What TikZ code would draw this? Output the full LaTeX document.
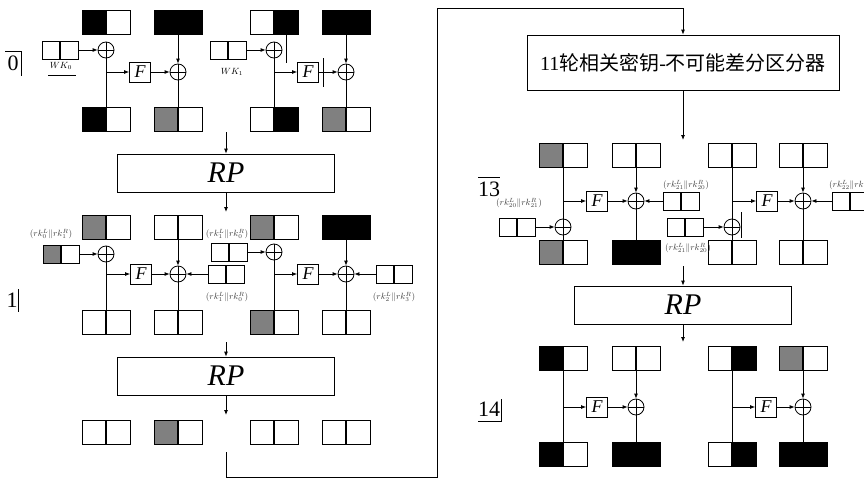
\documentclass[tikz,border=0pt]{standalone}
\usepackage{fontspec}
\setmainfont{Liberation Serif}
\newfontfamily\cjk{Noto Sans CJK SC}
\usetikzlibrary{arrows.meta}
\begin{document}
\begin{tikzpicture}[x=1pt,y=-1pt,line width=0.8pt,
 regbox/.style 2 args={draw, minimum width=48pt, minimum height=24pt, inner sep=0pt,
   path picture={\fill[#1] (path picture bounding box.south west) rectangle (path picture bounding box.north);
                 \fill[#2] (path picture bounding box.south) rectangle (path picture bounding box.north east);
                 \draw[line width=1.1pt] (path picture bounding box.south) -- (path picture bounding box.north);}},
 kbox/.style 2 args={regbox={#1}{#2}, minimum width=36pt, minimum height=18pt},
 fbx/.style={draw, minimum width=21pt, minimum height=20pt, inner sep=0pt, font=\fontsize{18}{18}\selectfont\itshape},
 xo/.style={circle, draw, minimum size=16pt, inner sep=0pt,
   path picture={\draw[line width=0.6pt] (path picture bounding box.north) -- (path picture bounding box.south)
                 (path picture bounding box.west) -- (path picture bounding box.east);}},
 rpbox/.style={draw, minimum width=217pt, minimum height=38pt, inner sep=0pt, font=\fontsize{30}{30}\selectfont\itshape},
 arr/.style={-{Latex[length=5pt,width=4pt]}},
 klab/.style={font=\fontsize{9}{9}\selectfont, text=black!75, inner sep=0pt},
 rlab/.style={font=\fontsize{22}{22}\selectfont, inner sep=0pt}
]
\useasboundingbox (0,0) rectangle (864,479);
\colorlet{gr}{black!50}

% ---------------- Round 0 ----------------
\node[regbox={black}{white}] (t0a) at (106,22) {};
\node[regbox={black}{black}] (t0b) at (178,22) {};
\node[regbox={white}{black}] (t0c) at (274,22) {};
\node[regbox={black}{black}] (t0d) at (346,22) {};
\node[kbox={white}{white}] (wk0) at (60,50) {};
\node[kbox={white}{white}] (wk1) at (228,50) {};
\node[xo] (x0a) at (106,50) {};
\node[xo] (x0b) at (274,50) {};
\node[fbx] (f0a) at (140,72) {F};
\node[fbx] (f0b) at (308,72) {F};
\node[xo] (x0c) at (178,72) {};
\node[xo] (x0d) at (346,72) {};
\node[regbox={black}{white}] (b0a) at (106,119) {};
\node[regbox={gr}{white}] (b0b) at (178,119) {};
\node[regbox={white}{black}] (b0c) at (274,119) {};
\node[regbox={gr}{white}] (b0d) at (346,119) {};
\coordinate (br0a) at (106,72);
\coordinate (br0b) at (274,72);
\node[font=\fontsize{9}{9}\selectfont, inner sep=0pt] (wl0) at (61,66) {$WK_0$};
\draw[line width=0.6pt] (48,75) -- (76,75);
\node[font=\fontsize{9}{9}\selectfont, inner sep=0pt] (wl1) at (232,72) {$WK_1$};
\node[rlab] (r0) at (13,63) {0};
\draw (5,51) -- (21,51) -- (21,76);

\draw[arr] (wk0) -- (x0a);
\draw (x0a) -- (b0a);
\draw[arr] (br0a) -- (f0a);
\draw[arr] (f0a) -- (x0c);
\draw[arr] (t0b) -- (x0c);
\draw (x0c) -- (b0b);
\draw[arr] (wk1) -- (x0b);
\draw (x0b) -- (b0c);
\draw[arr] (br0b) -- (f0b);
\draw[arr] (f0b) -- (x0d);
\draw[arr] (t0d) -- (x0d);
\draw (x0d) -- (b0d);
\draw (286,33) -- (286,63);
\draw (323,58) -- (323,87);

% ---------------- RP 1 ----------------
\node[rpbox] (rp1) at (226,173) {RP};
\coordinate (in1) at (226,132);
\coordinate (out1) at (226,212);
\draw[arr] (in1) -- (rp1);
\draw[arr] (rp1) -- (out1);

% ---------------- Round 1 ----------------
\node[regbox={gr}{white}] (t1a) at (106,227) {};
\node[regbox={white}{white}] (t1b) at (178,227) {};
\node[regbox={gr}{white}] (t1c) at (274,227) {};
\node[regbox={black}{black}] (t1d) at (346,227) {};
\node[kbox={gr}{white}] (k1a) at (61,254) {};
\node[xo] (x1a) at (106,254) {};
\node[kbox={white}{white}] (k1b) at (229,252) {};
\node[xo] (x1b) at (274,252) {};
\node[fbx] (f1a) at (141,274) {F};
\node[xo] (x1c) at (178,274) {};
\node[kbox={white}{white}] (k1c) at (226,274) {};
\node[fbx] (f1b) at (308,274) {F};
\node[xo] (x1d) at (346,274) {};
\node[kbox={white}{white}] (k1d) at (394,274) {};
\node[regbox={white}{white}] (b1a) at (106,322) {};
\node[regbox={white}{white}] (b1b) at (178,322) {};
\node[regbox={gr}{white}] (b1c) at (274,322) {};
\node[regbox={white}{white}] (b1d) at (346,322) {};
\coordinate (br1a) at (106,274);
\coordinate (br1b) at (274,274);
\node[klab] (l1a) at (51,234) {$(rk_0^L\|rk_1^R)$};
\node[klab] (l1b) at (227,234) {$(rk_1^L\|rk_0^R)$};
\node[klab] (l1c) at (227,297) {$(rk_1^L\|rk_0^R)$};
\node[klab] (l1d) at (394,297) {$(rk_2^L\|rk_3^R)$};
\node[rlab] (r1) at (12,300) {1};
\draw (18,289) -- (18,312);

\draw[arr] (k1a) -- (x1a);
\draw (x1a) -- (b1a);
\draw[arr] (br1a) -- (f1a);
\draw[arr] (f1a) -- (x1c);
\draw[arr] (t1b) -- (x1c);
\draw[arr] (k1c) -- (x1c);
\draw (x1c) -- (b1b);
\draw[arr] (k1b) -- (x1b);
\draw (x1b) -- (b1c);
\draw[arr] (br1b) -- (f1b);
\draw[arr] (f1b) -- (x1d);
\draw[arr] (t1d) -- (x1d);
\draw[arr] (k1d) -- (x1d);
\draw (x1d) -- (b1d);

% ---------------- RP 2 ----------------
\node[rpbox] (rp2) at (226,376) {RP};
\coordinate (in2) at (226,342);
\coordinate (out2) at (226,415);
\draw[arr] (in2) -- (rp2);
\draw[arr] (rp2) -- (out2);
\node[regbox={white}{white}] (b2a) at (106,432) {};
\node[regbox={gr}{white}] (b2b) at (178,432) {};
\node[regbox={white}{white}] (b2c) at (274,432) {};
\node[regbox={white}{white}] (b2d) at (346,432) {};

% ---------------- link to distinguisher ----------------
\node[draw, minimum width=312pt, minimum height=55pt, inner sep=0pt, font=\fontsize{20}{20}\selectfont] (box11) at (683,62.5)
  {11{\cjk 轮相关密钥}-{\cjk 不可能差分区分器}};
\coordinate (s2) at (226,452);
\coordinate (cA) at (437,477);
\coordinate (cB) at (683,8);
\draw[arr] (s2) |- (cA) |- (cB) -- (box11);
\coordinate (o11) at (683,140);
\draw[arr] (box11) -- (o11);

% ---------------- Round 13 ----------------
\node[regbox={gr}{white}] (t13a) at (563,155) {};
\node[regbox={white}{white}] (t13b) at (636,155) {};
\node[regbox={white}{white}] (t13c) at (732,155) {};
\node[regbox={white}{white}] (t13d) at (803,155) {};
\coordinate (br13a) at (563,201);
\coordinate (br13b) at (732,201);
\node[fbx] (f13a) at (597,201) {F};
\node[xo] (x13c) at (636,201) {};
\node[kbox={white}{white}] (k13b) at (681,201) {};
\node[xo] (x13a) at (563,227) {};
\node[kbox={white}{white}] (k13a) at (517,227) {};
\node[fbx] (f13b) at (767,201) {F};
\node[xo] (x13d) at (803,201) {};
\node[kbox={white}{white}] (k13d) at (850,201) {};
\node[xo] (x13b) at (732,227) {};
\node[kbox={white}{white}] (k13c) at (685,227) {};
\node[regbox={gr}{white}] (b13a) at (563,252) {};
\node[regbox={black}{black}] (b13b) at (636,252) {};
\node[regbox={white}{white}] (b13c) at (732,252) {};
\node[regbox={white}{white}] (b13d) at (803,252) {};
\node[klab] (l13a) at (519,203) {$(rk_{20}^L\|rk_{21}^R)$};
\node[klab] (l13b) at (686,185) {$(rk_{21}^L\|rk_{20}^R)$};
\node[klab] (l13c) at (688,248) {$(rk_{21}^L\|rk_{20}^R)$};
\node[klab] (l13d) at (852,185) {$(rk_{22}^L\|rk_{23}^R)$};
\node[rlab] (r13) at (489,189) {13};
\draw (478,177) -- (500,177);

\draw (t13a) -- (x13a);
\draw (x13a) -- (b13a);
\draw[arr] (k13a) -- (x13a);
\draw[arr] (br13a) -- (f13a);
\draw[arr] (f13a) -- (x13c);
\draw[arr] (t13b) -- (x13c);
\draw[arr] (k13b) -- (x13c);
\draw (x13c) -- (b13b);
\draw (t13c) -- (x13b);
\draw (x13b) -- (b13c);
\draw[arr] (k13c) -- (x13b);
\draw[arr] (br13b) -- (f13b);
\draw[arr] (f13b) -- (x13d);
\draw[arr] (t13d) -- (x13d);
\draw[arr] (k13d) -- (x13d);
\draw (x13d) -- (b13d);
\draw (741,212) -- (741,238);

% ---------------- RP 3 ----------------
\node[rpbox] (rp3) at (683,305) {RP};
\coordinate (in3) at (683,266);
\coordinate (out3) at (683,342);
\draw[arr] (in3) -- (rp3);
\draw[arr] (rp3) -- (out3);

% ---------------- Round 14 ----------------
\node[regbox={black}{white}] (t14a) at (563,358) {};
\node[regbox={white}{white}] (t14b) at (636,358) {};
\node[regbox={white}{black}] (t14c) at (732,358) {};
\node[regbox={gr}{white}] (t14d) at (803,358) {};
\coordinate (br14a) at (563,407);
\coordinate (br14b) at (732,407);
\node[fbx] (f14a) at (597,407) {F};
\node[xo] (x14a) at (636,407) {};
\node[fbx] (f14b) at (766,407) {F};
\node[xo] (x14b) at (803,407) {};
\node[regbox={black}{white}] (b14a) at (563,454) {};
\node[regbox={black}{black}] (b14b) at (636,454) {};
\node[regbox={white}{black}] (b14c) at (732,454) {};
\node[regbox={black}{black}] (b14d) at (803,454) {};
\node[rlab] (r14) at (489,409) {14};
\draw (478,421) -- (501,421) -- (501,399);

\draw (t14a) -- (b14a);
\draw[arr] (br14a) -- (f14a);
\draw[arr] (f14a) -- (x14a);
\draw[arr] (t14b) -- (x14a);
\draw (x14a) -- (b14b);
\draw (t14c) -- (b14c);
\draw[arr] (br14b) -- (f14b);
\draw[arr] (f14b) -- (x14b);
\draw[arr] (t14d) -- (x14b);
\draw (x14b) -- (b14d);
\end{tikzpicture}
\end{document}
